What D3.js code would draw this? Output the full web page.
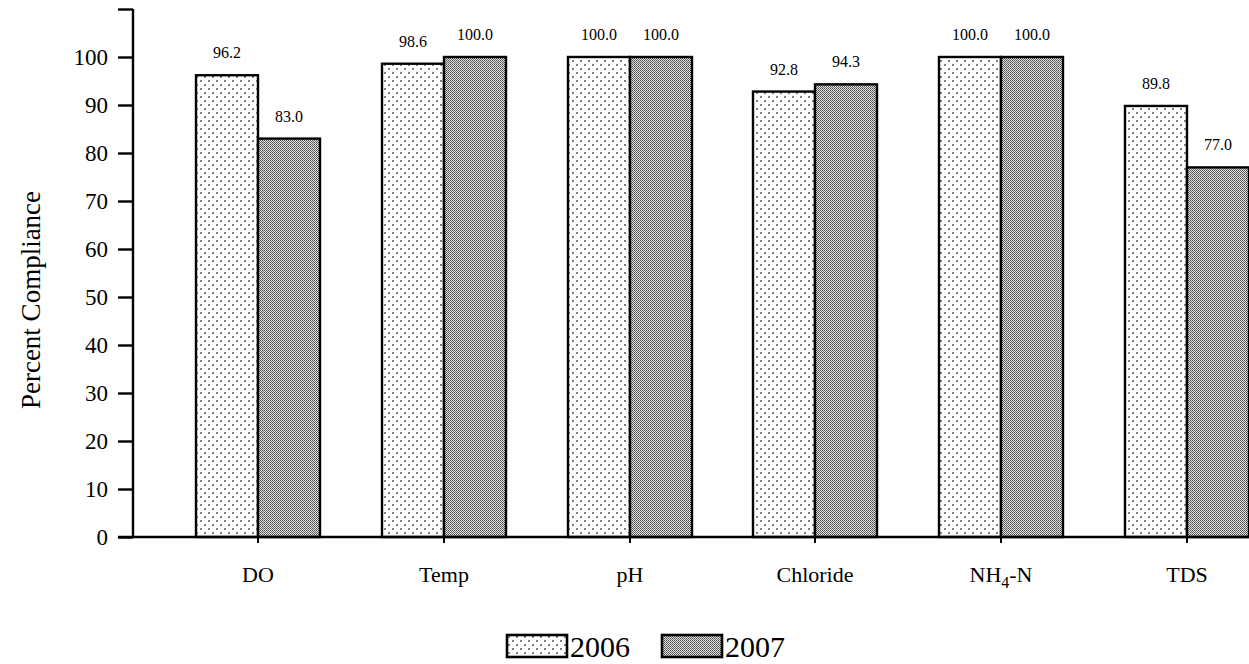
<!DOCTYPE html>
<html><head><meta charset="utf-8">
<script src="https://cdn.jsdelivr.net/npm/d3@7"></script>
<style>body{margin:0;background:#fff}svg{display:block}text{font-family:"Liberation Serif","Times New Roman",serif}</style>
</head><body><svg id="c" width="1249" height="664"></svg>
<script>
const categories = ["DO","Temp","pH","Chloride","NH4-N","TDS"];
const series = ["2006","2007"];
const values2006 = [96.2,98.6,100.0,92.8,100.0,89.8];
const values2007 = [83.0,100.0,100.0,94.3,100.0,77.0];
const yTicks = [0,10,20,30,40,50,60,70,80,90,100,110];

const svg = d3.select("#c");
const defs = svg.append("defs");
// 2006 pattern: sparse staggered dots
const p1 = defs.append("pattern").attr("id","p2006").attr("patternUnits","userSpaceOnUse").attr("width",8).attr("height",8);
p1.append("rect").attr("width",8).attr("height",8).attr("fill","#fff");
p1.append("rect").attr("x",0).attr("y",0).attr("width",2).attr("height",2).attr("fill","#808080");
p1.append("rect").attr("x",4).attr("y",4).attr("width",2).attr("height",2).attr("fill","#808080");
// 2007 pattern: dense fine checker
const p2 = defs.append("pattern").attr("id","p2007").attr("patternUnits","userSpaceOnUse").attr("width",2).attr("height",2);
p2.append("rect").attr("width",2).attr("height",2).attr("fill","#e2e2e2");
p2.append("rect").attr("x",0).attr("y",0).attr("width",1).attr("height",1).attr("fill","#4a4a4a");
p2.append("rect").attr("x",1).attr("y",1).attr("width",1).attr("height",1).attr("fill","#6a6a6a");
const fills = {"2006":"url(#p2006)","2007":"url(#p2007)"};

const y = d3.scaleLinear().domain([0,110]).range([537,9]);
const x = d3.scaleBand().domain(categories).range([165,1280]).paddingInner(0).paddingOuter(0);
const xs = d3.scaleBand().domain(series).range([-62,62]);

const data = categories.map((c,i)=>({cat:c, vals:[{s:"2006",v:values2006[i]},{s:"2007",v:values2007[i]}]}));

// bars
const g = svg.append("g");
data.forEach(d=>{
  const cx = Math.round(x(d.cat)+x.bandwidth()/2);
  d.vals.forEach(e=>{
    g.append("rect").attr("x",cx+xs(e.s)).attr("y",y(e.v))
      .attr("width",xs.bandwidth()).attr("height",y(0)-y(e.v))
      .attr("fill",fills[e.s]).attr("stroke","#000").attr("stroke-width",2.4);
    g.append("text").attr("x",cx+xs(e.s)+xs.bandwidth()/2).attr("y",y(e.v)-17)
      .attr("text-anchor","middle").attr("font-size",16).text(e.v.toFixed(1));
  });
});

// y axis
const ya = svg.append("g").attr("transform","translate(133,0)")
  .call(d3.axisLeft(y).tickValues(yTicks).tickSize(15).tickFormat(d=>d===110?"":d));
ya.select(".domain").attr("stroke-width",2.4).attr("d","M0,9V537");
ya.selectAll(".tick line").attr("stroke-width",2.4);
ya.selectAll(".tick text").attr("font-size",23).attr("x",-25).attr("font-family","Liberation Serif");

// x axis
const xa = svg.append("g").attr("transform","translate(0,537)");
xa.append("line").attr("x1",118).attr("x2",1249).attr("stroke","#000").attr("stroke-width",2.4);
categories.forEach(c=>{
  const cx = Math.round(x(c)+x.bandwidth()/2);
  xa.append("line").attr("x1",cx).attr("x2",cx).attr("y1",0).attr("y2",6).attr("stroke","#000").attr("stroke-width",2);
  const t = xa.append("text").attr("x",cx).attr("y",45).attr("text-anchor","middle").attr("font-size",22);
  if(c==="NH4-N"){
    t.append("tspan").text("NH");
    t.append("tspan").attr("font-size",16).attr("dy",6).text("4");
    t.append("tspan").attr("dy",-6).text("-N");
  } else t.text(c);
});

// y title
svg.append("text").attr("transform","translate(40,300) rotate(-90)").attr("text-anchor","middle")
  .attr("font-size",27).text("Percent Compliance");

// legend
const lg = svg.append("g");
const lx = {"2006":507,"2007":662};
series.forEach(s=>{
  lg.append("rect").attr("x",lx[s]).attr("y",635).attr("width",60).attr("height",22)
    .attr("fill",fills[s]).attr("stroke","#000").attr("stroke-width",2.6);
  lg.append("text").attr("x",lx[s]+63).attr("y",657).attr("font-size",30).text(s);
});
</script></body></html>
